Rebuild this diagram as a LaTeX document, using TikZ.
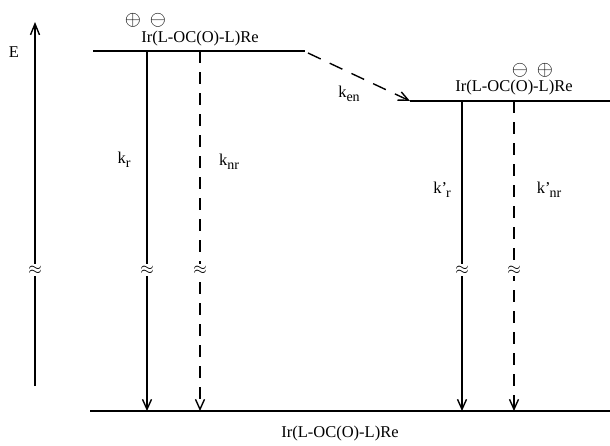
\documentclass[tikz,border=0pt]{standalone}
\usepackage{fontspec}
\setmainfont{Liberation Serif}
\usetikzlibrary{arrows.meta}
\newcommand{\lowidx}[1]{\raisebox{-4pt}{\fontsize{14}{14}\selectfont #1}}
\tikzset{level/.style={line width=2.4pt},
  decay/.style={line width=1.4pt,-{Straight Barb[length=10pt,width=9pt]}},
  nrdecay/.style={decay,dash pattern=on 12pt off 9pt},
  brk/.style={fill=white,inner sep=1.5pt,font=\fontsize{17}{17}\selectfont},
  lbl/.style={font=\fontsize{16.5}{18}\selectfont,inner sep=1pt},
  chg/.style={font=\fontsize{20}{20}\selectfont,inner sep=0pt}}

\begin{document}
\begin{tikzpicture}[x=1pt,y=-1pt]
  \useasboundingbox (0,0) rectangle (610,445);
  % energy axis
  \coordinate (e0) at (35,386);
  \coordinate (e1) at (35,22);
  \draw[line width=1.4pt,-{Straight Barb[length=11pt,width=9pt]}] (e0) -- (e1);
  \node[brk] at (35,270) {$\approx$};
  \node[lbl] (E) at (14,52) {E};
  % levels: upper left, lower right, ground
  \coordinate (a0) at (93,51);  \coordinate (a1) at (305,51);
  \coordinate (b0) at (410,101); \coordinate (b1) at (610,101);
  \coordinate (g0) at (90,411); \coordinate (g1) at (610,411);
  \draw[level] (a0) -- (a1);
  \draw[level] (b0) -- (b1);
  \draw[level] (g0) -- (g1);
  \node[lbl] (ta) at (200,39) {Ir(L-OC(O)-L)Re};
  \node[chg] at (133,20) {$\oplus$};
  \node[chg] at (158,20) {$\ominus$};
  \node[lbl] (tb) at (514,88) {Ir(L-OC(O)-L)Re};
  \node[chg] at (520,70) {$\ominus$};
  \node[chg] at (545,70) {$\oplus$};
  \node[lbl] (tg) at (340,434) {Ir(L-OC(O)-L)Re};
  % energy transfer
  \coordinate (en0) at (308,53);
  \draw[decay,dash pattern=on 14pt off 10pt] (en0) -- (b0);
  \node[lbl] (ken) at (349,94) {k\lowidx{en}};
  % decays from upper left level
  \coordinate (r0) at (147,51);  \coordinate (r1) at (147,411);
  \coordinate (nr0) at (200,51); \coordinate (nr1) at (200,411);
  \draw[decay] (r0) -- (r1);
  \draw[nrdecay] (nr0) -- (nr1);
  \node[brk] at (147,270) {$\approx$};
  \node[brk] at (200,270) {$\approx$};
  \node[lbl] (kr) at (124,160) {k\lowidx{r}};
  \node[lbl] (knr) at (229,162) {k\lowidx{nr}};
  % decays from lower right level
  \coordinate (pr0) at (462,101);  \coordinate (pr1) at (462,411);
  \coordinate (pnr0) at (514,101); \coordinate (pnr1) at (514,411);
  \draw[decay] (pr0) -- (pr1);
  \draw[nrdecay] (pnr0) -- (pnr1);
  \node[brk] at (462,270) {$\approx$};
  \node[brk] at (514,270) {$\approx$};
  \node[lbl] (kpr) at (442,190) {k\symbol{"27}\kern-1pt\lowidx{r}};
  \node[lbl] (kpnr) at (549,190) {k\symbol{"27}\kern-1pt\lowidx{nr}};
\end{tikzpicture}
\end{document}
